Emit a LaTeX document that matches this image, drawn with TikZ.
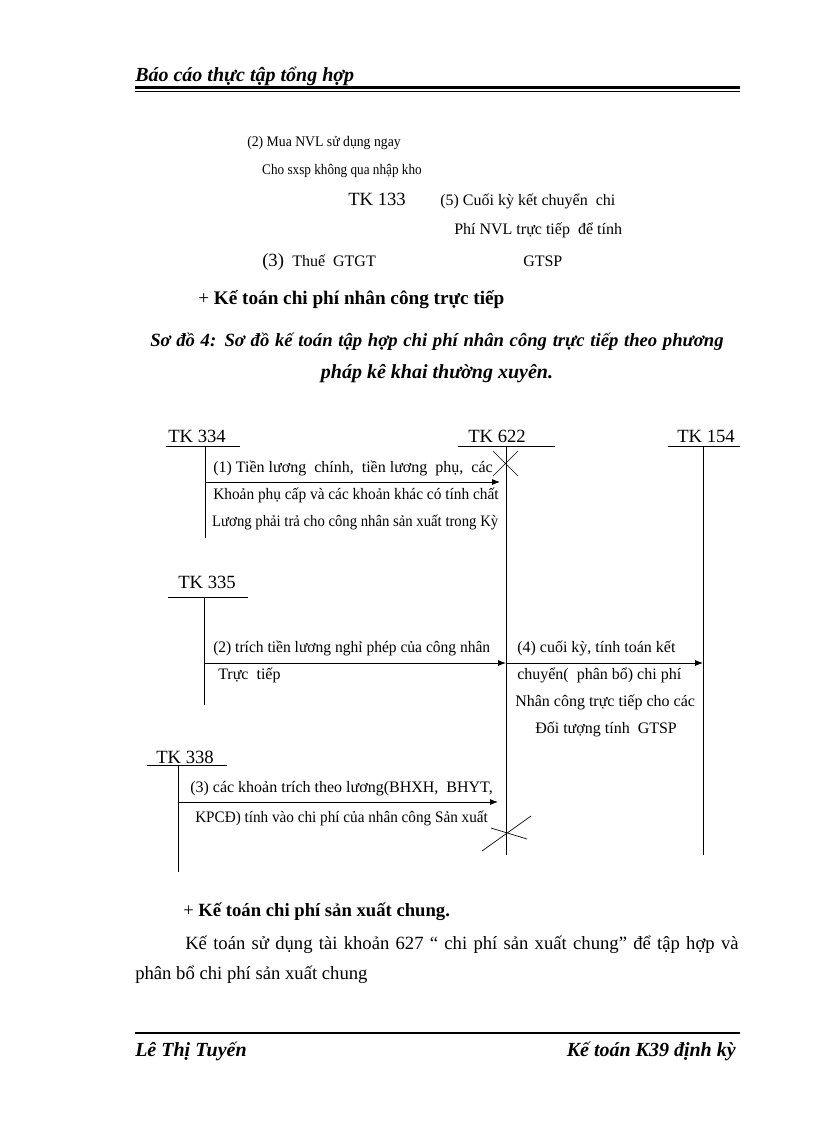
\documentclass[tikz,border=0pt]{standalone}
\usepackage{fontspec}
\setmainfont{Liberation Serif}
\usetikzlibrary{positioning,calc,arrows.meta}
\tikzset{
    txt/.style={inner sep=0pt,anchor=base west,font=\fontsize{12}{14}\selectfont},
    small/.style={inner sep=0pt,anchor=base west,font=\fontsize{11}{13}\selectfont,xscale=0.9},
    body/.style={inner sep=0pt,anchor=base west,font=\fontsize{14}{16}\selectfont},
    heading/.style={inner sep=0pt,anchor=base west,font=\bfseries\itshape\fontsize{15}{17}\selectfont},
    acct/.style={inner sep=0pt,anchor=base west,font=\fontsize{14}{16}\selectfont},
    tline/.style={line width=0.6pt},
    flow/.style={-{Latex[length=6pt,width=4.5pt]},line width=0.6pt},
}

\begin{document}
\begin{tikzpicture}[x=0.75pt,y=-0.75pt]
    \useasboundingbox (0,0) rectangle (816,1123);

    % header
    \node[heading] (head) at (135,82) {Báo cáo thực tập tổng hợp};
    \draw[line width=1.6pt] (135,87.5) -- (740,87.5);
    \draw[line width=0.5pt] (135,91) -- (740,91);

    % end of previous diagram
    \node[small,xscale=1.04] (n2a) at (247,147) {(2) Mua NVL sử dụng ngay};
    \node[small] (n2b) at (262,175) {Cho sxsp không qua nhập kho};
    \node[acct] (tk133) at (348,205) {TK 133};
    \node[txt] (n5a) at (440,206) {(5) Cuối kỳ kết chuyển\ \ chi};
    \node[txt] (n5b) at (454,234) {Phí NVL trực tiếp\ \ để tính};
    \node[body] (n3n) at (262,266) {(3)};
    \node[txt] (n3a) at (292,266) {Thuế\ \ GTGT};
    \node[txt] (n5c) at (523,267) {GTSP};

    % titles
    \node[body,font=\fontsize{14.4}{16}\selectfont] (sec1) at (198,304) {+ \textbf{Kế toán chi phí nhân công trực tiếp}};
    \node[heading,font=\bfseries\itshape\fontsize{14}{16}\selectfont] (cap1) at (150,346)
        {\makebox[430pt][s]{Sơ đồ 4: Sơ đồ kế toán tập hợp chi phí nhân công trực tiếp theo phương}};
    \node[heading,anchor=base] (cap2) at (437,378) {pháp kê khai thường xuyên.};

    % accounts
    \node[acct] (tk334) at (168,442) {TK 334};
    \node[acct] (tk622) at (468,442) {TK 622};
    \node[acct] (tk154) at (677,442) {TK 154};
    \node[acct] (tk335) at (178,588) {TK 335};
    \node[acct] (tk338) at (156,763) {TK 338};

    \coordinate (t334) at (205,446);  \coordinate (b334) at (205,538);
    \coordinate (t622) at (506,446);  \coordinate (b622) at (506,855);
    \coordinate (t154) at (703,446);  \coordinate (b154) at (703,855);
    \coordinate (t335) at (204,597);  \coordinate (b335) at (204,705);
    \coordinate (t338) at (178,765);  \coordinate (b338) at (178,872);

    \draw[tline] (166,446) -- (240,446) (t334) -- (b334);
    \draw[tline] (458,446) -- (555,446) (t622) -- (b622);
    \draw[tline] (668,446) -- (740,446) (t154) -- (b154);
    \draw[tline] (168,597) -- (248,597) (t335) -- (b335);
    \draw[tline] (147,765) -- (227,765) (t338) -- (b338);

    % crosses on TK 622
    \draw[line width=0.5pt] (493,451) -- (518,476) (518,451) -- (493,476);
    \draw[line width=0.5pt] (482,851) -- (531,816) (491,828) -- (527,839);

    % flows
    \draw[flow] (t334 |- 0,482) -- (500,482);
    \node[txt] (f1a) at (213,472) {(1) Tiền lương\ \ chính,\ \ tiền lương\ \ phụ,\ \ các};
    \node[txt,xscale=0.96] (f1b) at (213,499) {Khoản phụ cấp và các khoản khác có tính chất};
    \node[txt,xscale=0.92] (f1c) at (212,526) {Lương phải trả cho công nhân sản xuất trong Kỳ};

    \draw[flow] (t335 |- 0,663) -- (t622 |- 0,663);
    \node[txt,xscale=0.97] (f2a) at (213,652) {(2) trích tiền lương nghỉ phép của công nhân};
    \node[txt] (f2b) at (218,679) {Trực\ \ tiếp};

    \draw[flow] (t622 |- 0,663) -- (t154 |- 0,663);
    \node[txt] (f4a) at (517,652) {(4)\ cuối\ kỳ,\ tính\ toán\ kết};
    \node[txt] (f4b) at (517,679) {chuyển(\ \ phân\ bổ)\ chi\ phí};
    \node[txt] (f4c) at (515,706) {Nhân\ công\ trực tiếp\ cho\ các};
    \node[txt] (f4d) at (535,733) {Đối\ tượng\ tính\ \ GTSP};

    \draw[flow] (t338 |- 0,802) -- (498,802);
    \node[txt] (f3a) at (190,792) {(3)\ các\ khoản\ trích\ theo\ lương(BHXH,\ \ BHYT,};
    \node[txt,xscale=0.95] (f3b) at (195,822) {KPCĐ) tính vào chi phí của nhân công Sản xuất};

    % following text
    \node[body] (sec2) at (183,916) {+ \textbf{Kế toán chi phí sản xuất chung.}};
    \node[body] (par1) at (185,949)
        {\makebox[415pt][s]{Kế toán sử dụng tài khoản 627 “ chi phí sản xuất chung” để tập hợp và}};
    \node[body] (par2) at (135,979) {phân bổ chi phí sản xuất\ chung};

    % footer
    \draw[line width=1.6pt] (135,1033) -- (740,1033);
    \node[heading] (foot1) at (135,1056) {Lê Thị Tuyến};
    \node[heading,anchor=base east] (foot2) at (736,1056) {Kế toán K39 định kỳ};
\end{tikzpicture}
\end{document}
